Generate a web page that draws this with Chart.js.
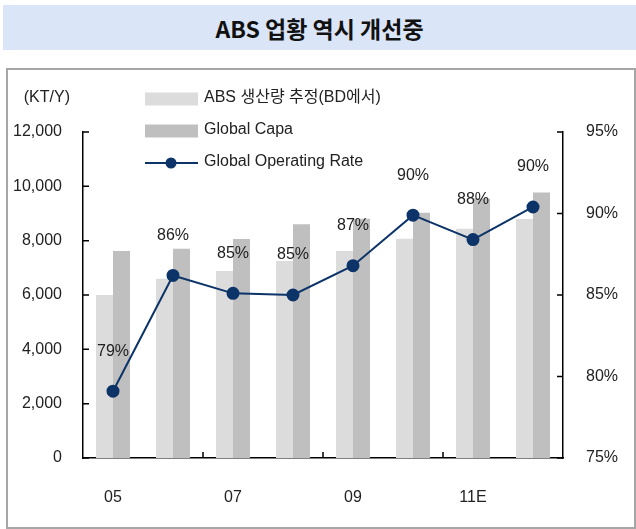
<!DOCTYPE html>
<html>
<head>
<meta charset="utf-8">
<script src="https://cdn.jsdelivr.net/npm/chart.js@4.4.0/dist/chart.umd.min.js"></script>
<style>
  body { margin: 0; background: #fff; }
  #wrap { position: relative; width: 636px; height: 529px; }
  #titlebar {
    position: absolute; left: 3px; top: 5px; width: 633px; height: 45px;
    background: #dae5f8;
  }
  #title {
    position: absolute; left: 3px; top: 11px; width: 633px; height: 45px;
    text-align: center; line-height: 45px;
    font: bold 23px 'Noto Sans CJK KR', sans-serif; color: #111;
  }
  #box {
    position: absolute; left: 6px; top: 68px; width: 626px; height: 457px;
    border: 2px solid #a6a6a6;
  }
  #chart { position: absolute; left: 0; top: 0; }
</style>
</head>
<body>
<div id="wrap">
  <div id="titlebar"></div>
  <div id="title">ABS 업황 역시 개선중</div>
  <div id="box"></div>
  <canvas id="chart" width="636" height="529"></canvas>
</div>
<script>
const years = ['05', '06', '07', '08', '09', '10', '11E', '12E'];
const production = [6000, 6600, 6880, 7250, 7620, 8070, 8440, 8800];
const capacity = [7620, 7700, 8060, 8600, 8810, 9030, 9550, 9770];
const operatingRate = [79.1, 86.2, 85.1, 85.0, 86.8, 89.9, 88.4, 90.4];
const leftTicks = [0, 2000, 4000, 6000, 8000, 10000, 12000];
const rightTicks = [75, 80, 85, 90, 95];
const seriesNames = ['ABS 생산량 추정(BD에서)', 'Global Capa', 'Global Operating Rate'];

const FONT = "'Liberation Sans', 'Noto Sans CJK KR', sans-serif";
const FONT_SIZE = 16;
const TEXT = '#222';
const NAVY = '#0c3468';

Chart.defaults.font.family = FONT;
Chart.defaults.font.size = FONT_SIZE;
Chart.defaults.color = TEXT;

// small ticks that point into the plot, like the original
const innerTicks = {
  id: 'innerTicks',
  afterDraw(chart) {
    const ctx = chart.ctx;
    const { x, y, y1 } = chart.scales;
    const area = chart.chartArea;
    ctx.save();
    ctx.strokeStyle = '#000';
    ctx.lineWidth = 1.5;
    ctx.beginPath();
    leftTicks.forEach(v => {
      const py = y.getPixelForValue(v);
      ctx.moveTo(area.left, py); ctx.lineTo(area.left + 6, py);
    });
    rightTicks.forEach(v => {
      const py = y1.getPixelForValue(v);
      ctx.moveTo(area.right, py); ctx.lineTo(area.right - 6, py);
    });
    [2, 4, 6].forEach(i => {
      const px = (x.getPixelForValue(i - 1) + x.getPixelForValue(i)) / 2;
      ctx.moveTo(px, area.bottom); ctx.lineTo(px, area.bottom - 6);
    });
    ctx.stroke();

    // unit label
    ctx.fillStyle = TEXT;
    ctx.font = FONT_SIZE + 'px ' + FONT;
    ctx.textAlign = 'right';
    ctx.textBaseline = 'middle';
    ctx.fillText('(KT/Y)', 70, 98);
    ctx.restore();
  }
};

const rateLabels = {
  id: 'rateLabels',
  afterDatasetsDraw(chart) {
    const ctx = chart.ctx;
    const meta = chart.getDatasetMeta(2);
    ctx.save();
    ctx.fillStyle = TEXT;
    ctx.font = FONT_SIZE + 'px ' + FONT;
    ctx.textAlign = 'center';
    ctx.textBaseline = 'middle';
    meta.data.forEach((pt, i) => {
      ctx.fillText(Math.round(operatingRate[i]) + '%', pt.x, pt.y - 40);
    });
    ctx.restore();
  }
};

const boxLegend = {
  id: 'boxLegend',
  afterDraw(chart) {
    const ctx = chart.ctx;
    const ds = chart.data.datasets;
    const rows = [99, 131, 163];
    ctx.save();
    ctx.font = FONT_SIZE + 'px ' + FONT;
    ctx.textBaseline = 'middle';
    ctx.textAlign = 'left';
    ds.forEach((d, i) => {
      const cy = rows[i];
      if (d.type === 'line') {
        ctx.strokeStyle = d.borderColor;
        ctx.lineWidth = 2;
        ctx.beginPath();
        ctx.moveTo(145, cy); ctx.lineTo(198, cy);
        ctx.stroke();
        ctx.fillStyle = d.backgroundColor;
        ctx.beginPath();
        ctx.arc(171, cy, 5.5, 0, Math.PI * 2);
        ctx.fill();
      } else {
        ctx.fillStyle = d.backgroundColor;
        ctx.fillRect(145, cy - 6.5, 53, 13);
      }
      ctx.fillStyle = TEXT;
      ctx.fillText(d.label, 204, cy - 1);
    });
    ctx.restore();
  }
};

new Chart(document.getElementById('chart'), {
  type: 'bar',
  data: {
    labels: years,
    datasets: [
      {
        label: seriesNames[0],
        data: production,
        backgroundColor: '#dcdcdc',
        yAxisID: 'y',
        order: 2
      },
      {
        label: seriesNames[1],
        data: capacity,
        backgroundColor: '#bfbfbf',
        yAxisID: 'y',
        order: 2
      },
      {
        type: 'line',
        label: seriesNames[2],
        data: operatingRate,
        borderColor: NAVY,
        backgroundColor: NAVY,
        borderWidth: 2,
        pointRadius: 5.5,
        pointBackgroundColor: NAVY,
        pointBorderColor: NAVY,
        tension: 0,
        yAxisID: 'y1',
        order: 0
      }
    ]
  },
  options: {
    responsive: false,
    animation: false,
    categoryPercentage: 0.567,
    barPercentage: 1,
    layout: { padding: { top: 132, left: 0, right: 0, bottom: 0 } },
    plugins: {
      legend: { display: false },
      tooltip: { enabled: false }
    },
    scales: {
      x: {
        offset: true,
        grid: { display: false },
        border: { color: '#000', width: 1.5 },
        ticks: {
          autoSkip: false,
          maxRotation: 0,
          padding: 22,
          callback: (v, i) => (i % 2 === 0 ? years[i] : '')
        },
        afterFit: s => { s.height = 71; }
      },
      y: {
        position: 'left',
        min: 0,
        max: 12000,
        grid: { display: false },
        border: { color: '#000', width: 1.5 },
        afterBuildTicks: s => { s.ticks = leftTicks.map(v => ({ value: v })); },
        ticks: {
          padding: 13,
          callback: v => v.toLocaleString('en-US')
        },
        afterFit: s => { s.width = 83; }
      },
      y1: {
        position: 'right',
        min: 75,
        max: 95,
        grid: { display: false },
        border: { color: '#000', width: 1.5 },
        afterBuildTicks: s => { s.ticks = rightTicks.map(v => ({ value: v })); },
        ticks: {
          padding: 15,
          callback: v => v + '%'
        },
        afterFit: s => { s.width = 73; }
      }
    }
  },
  plugins: [innerTicks, rateLabels, boxLegend]
});
</script>
</body>
</html>
